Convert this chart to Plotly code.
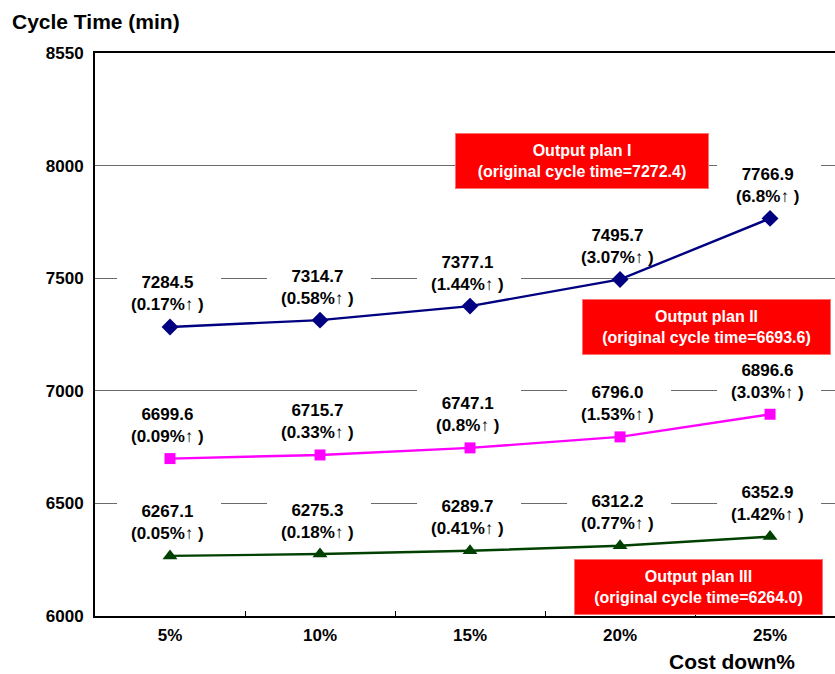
import plotly.graph_objects as go

# Cost-down levels and cycle times for each output plan
cost_down = ["5%", "10%", "15%", "20%", "25%"]
plan1 = [7284.5, 7314.7, 7377.1, 7495.7, 7766.9]
plan2 = [6699.6, 6715.7, 6747.1, 6796.0, 6896.6]
plan3 = [6267.1, 6275.3, 6289.7, 6312.2, 6352.9]
plan1_pct = ["0.17%", "0.58%", "1.44%", "3.07%", "6.8%"]
plan2_pct = ["0.09%", "0.33%", "0.8%", "1.53%", "3.03%"]
plan3_pct = ["0.05%", "0.18%", "0.41%", "0.77%", "1.42%"]
y_tickvals = [6000, 6500, 7000, 7500, 8000, 8502]
y_ticktext = ["6000", "6500", "7000", "7500", "8000", "8550"]

FONT = "Arial, Liberation Sans, sans-serif"

fig = go.Figure()

series = [
    (plan1, plan1_pct, "#000080", "diamond", 13),
    (plan2, plan2_pct, "#FF00FF", "square", 11),
    (plan3, plan3_pct, "#004000", "triangle-up", 13),
]

annotations = []
shapes = []
for values, pcts, color, symbol, msize in series:
    fig.add_trace(go.Scatter(
        x=cost_down, y=values, mode="lines+markers",
        line=dict(color=color, width=2.4),
        marker=dict(symbol=symbol, size=msize, color=color),
        showlegend=False, cliponaxis=False,
    ))
    for i, (v, p) in enumerate(zip(values, pcts)):
        # white backing that hides gridlines but stays under the data lines
        shapes.append(dict(
            type="rect", layer="between",
            xref="x", yref="y", xsizemode="pixel", ysizemode="pixel",
            xanchor=i, yanchor=v, x0=-53, x1=51, y0=8, y1=58,
            fillcolor="white", line=dict(width=0),
        ))
        annotations.append(dict(
            x=i, y=v, xref="x", yref="y", showarrow=False,
            yshift=33, xshift=-3,
            text=f"<b>{v:.1f}<br>({p}↑ )</b>",
            font=dict(family=FONT, size=17, color="black"),
            align="center",
        ))

# Plan captions in red boxes
plan_boxes = [
    (2.747, 8022, "<b>Output plan I<br>(original cycle time=7272.4)</b>", 252),
    (3.577, 7284, "<b>Output plan II<br>(original cycle time=6693.6)</b>", 247),
    (3.523, 6129, "<b>Output plan III<br>(original cycle time=6264.0)</b>", 247),
]
for bx, by, txt, w in plan_boxes:
    annotations.append(dict(
        x=bx, y=by, xref="x", yref="y", showarrow=False,
        text=txt, font=dict(family=FONT, size=16, color="white"),
        bgcolor="#FF0000", bordercolor="#FF7070", borderwidth=1,
        width=w, height=54, borderpad=0, align="center",
    ))

W, H = 835, 674
L, R, T, B = 95, 0, 53, 58
pw, ph = W - L - R, H - T - B

# Axis titles, placed by pixel position
titles = [
    (10, 22, "<b>Cycle Time (min)</b>", "left"),
    (797, 661, "<b>Cost down%</b>", "right"),
]
for px, py, txt, anchor in titles:
    annotations.append(dict(
        x=(px - L) / pw, y=(H - B - py) / ph, xref="paper", yref="paper",
        showarrow=False, text=txt, xanchor=anchor, yanchor="middle",
        font=dict(family=FONT, size=21, color="black"),
    ))

fig.update_layout(
    width=W, height=H,
    margin=dict(l=L, r=R, t=T, b=B, pad=0),
    paper_bgcolor="white", plot_bgcolor="white",
    annotations=annotations, shapes=shapes,
    font=dict(family=FONT, size=17, color="black"),
    xaxis=dict(
        type="category", range=[-0.5, 4.433],
        showline=True, linecolor="black", linewidth=2, mirror=True,
        ticks="inside", ticklen=5, tickcolor="black", tickwidth=1,
        tickson="boundaries", showgrid=False, ticklabelstandoff=3,
        tickfont=dict(family=FONT, size=17, color="black", weight="bold"),
    ),
    yaxis=dict(
        range=[6000, 8502], tickvals=y_tickvals, ticktext=y_ticktext,
        showline=True, linecolor="black", linewidth=2,
        showgrid=True, gridcolor="#6a6a6a", gridwidth=1.3,
        zeroline=False, ticks="", ticklabelstandoff=6,
        tickfont=dict(family=FONT, size=17, color="black", weight="bold"),
    ),
)

fig.write_html("out.html")
